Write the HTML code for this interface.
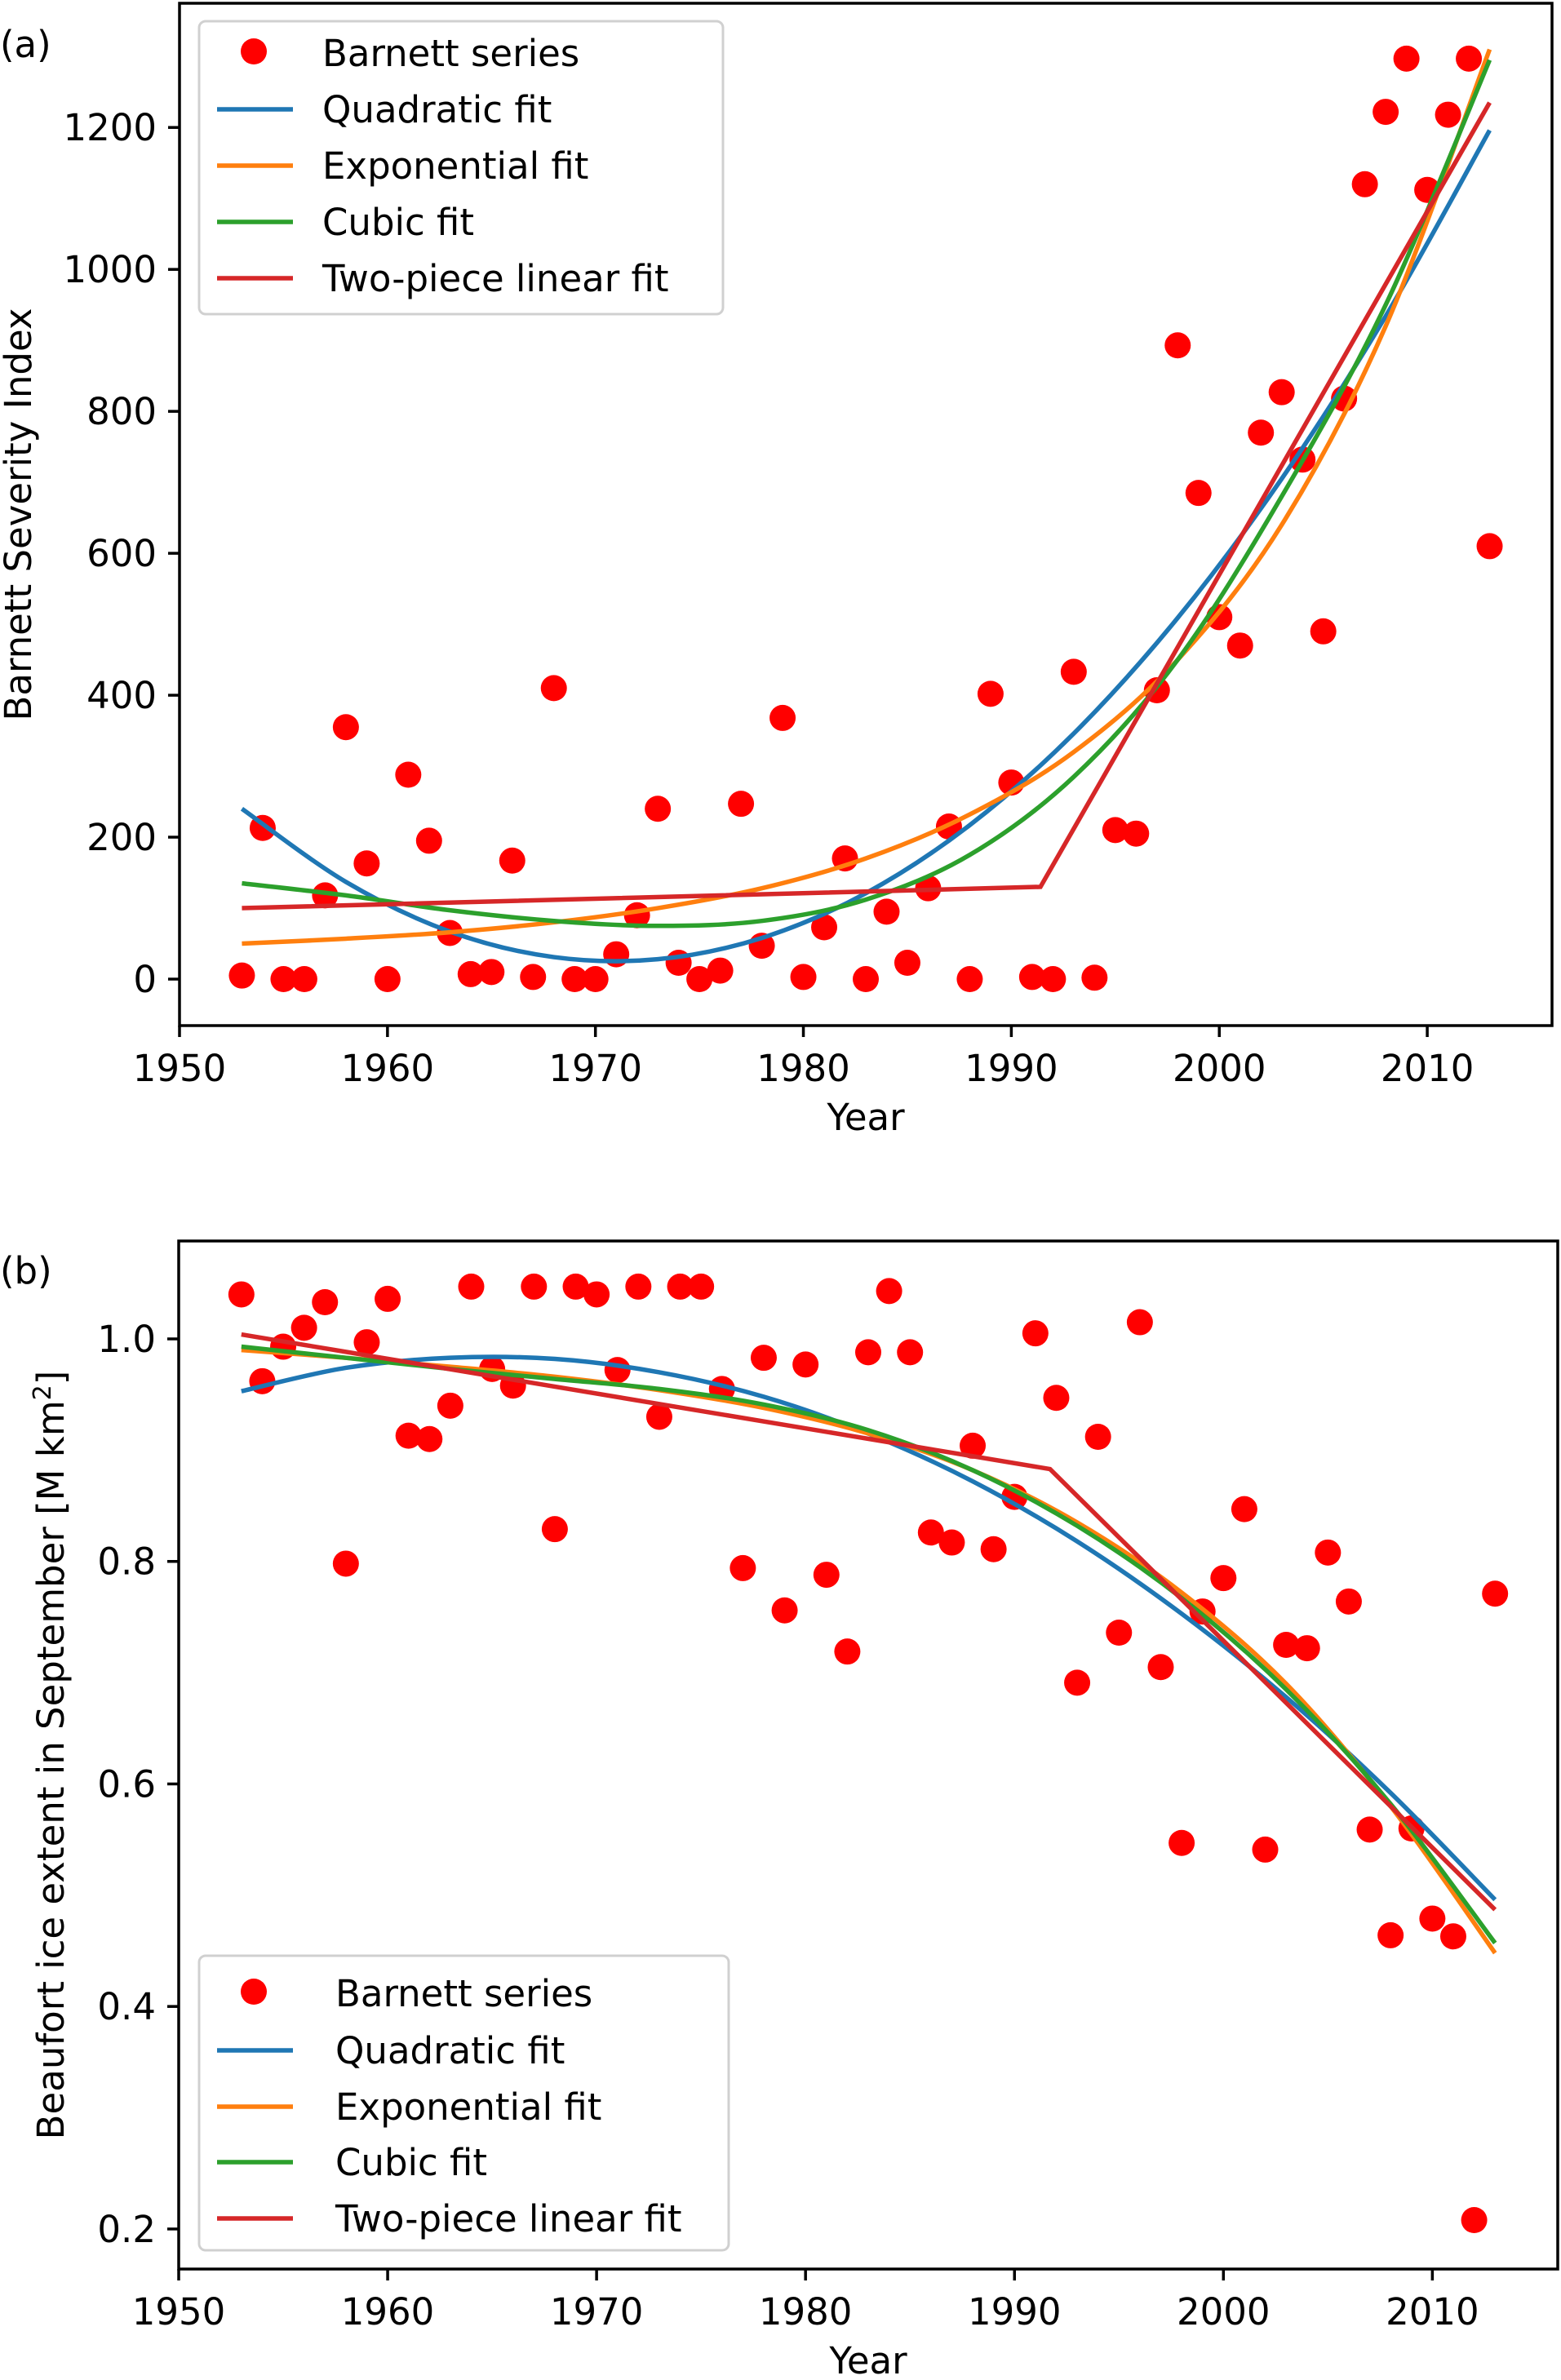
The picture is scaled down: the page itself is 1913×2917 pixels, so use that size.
<!DOCTYPE html>
<html><head><meta charset="utf-8"><style>
html,body{margin:0;padding:0;background:#fff}
svg{display:block;font-family:"DejaVu Sans","Liberation Sans",sans-serif}
</style></head><body>
<svg id="fig" width="1913" height="2917" viewBox="0 0 1913 2917" xmlns="http://www.w3.org/2000/svg"></svg>
<script>
const years = [];
for (let y = 1953; y <= 2013; y++) years.push(y);
const barnettA = [5,213,0,0,118,355,163,0,288,195,65,7,10,167,3,410,0,0,35,90,240,23,0,12,247,47,368,3,73,170,0,95,23,128,215,0,402,277,3,0,433,2,210,205,407,893,685,510,470,770,827,732,490,818,1120,1222,1297,1112,1218,1297,610];
const iceB = [1.040,0.962,0.993,1.010,1.033,0.798,0.997,1.036,0.913,0.910,0.940,1.047,0.973,0.958,1.047,0.829,1.047,1.040,0.972,1.047,0.930,1.047,1.047,0.955,0.794,0.983,0.756,0.977,0.788,0.719,0.988,1.043,0.988,0.826,0.817,0.904,0.811,0.858,1.005,0.947,0.691,0.912,0.736,1.015,0.705,0.547,0.755,0.785,0.847,0.541,0.725,0.722,0.808,0.764,0.559,0.464,0.560,0.479,0.463,0.208,0.771];
const fitYears = [1953,1958,1963,1968,1973,1978,1983,1988,1993,1998,2003,2008,2013];
const quadA = [240,137,67,31,28,58,121,217,346,509,705,934,1196];
const expA = [50,57,66,80,100,128,170,232,320,450,640,920,1310];
const cubicA = [135,118,97,82,75,82,112,175,285,450,680,950,1295];
const pieceYearsA = [1953,1991.4,2013];
const pieceA = [100,130,1235];
const quadB = [0.953,0.974,0.983,0.982,0.970,0.948,0.915,0.872,0.818,0.753,0.678,0.592,0.496];
const expB = [0.990,0.983,0.975,0.966,0.954,0.938,0.915,0.882,0.835,0.772,0.690,0.580,0.448];
const cubicB = [0.993,0.983,0.973,0.964,0.955,0.941,0.918,0.882,0.832,0.767,0.685,0.582,0.457];
const pieceYearsB = [1953,1991.7,2013];
const pieceB = [1.004,0.883,0.487];
const xTicks = [1950,1960,1970,1980,1990,2000,2010];
const yTicksA = [0,200,400,600,800,1000,1200];
const yTicksB = [0.2,0.4,0.6,0.8,1.0];
const legendLabels = ["Barnett series","Quadratic fit","Exponential fit","Cubic fit","Two-piece linear fit"];

const NS = "http://www.w3.org/2000/svg";
const svg = document.getElementById('fig');
function mk(tag, attrs, parent) {
  const e = document.createElementNS(NS, tag);
  for (const k in attrs) e.setAttribute(k, attrs[k]);
  (parent || svg).appendChild(e);
  return e;
}
function smoothPath(pts) {
  let d = `M${pts[0][0]},${pts[0][1]}`;
  for (let i = 0; i < pts.length - 1; i++) {
    const p0 = pts[Math.max(0,i-1)], p1 = pts[i], p2 = pts[i+1], p3 = pts[Math.min(pts.length-1,i+2)];
    const c1x = p1[0] + (p2[0]-p0[0])/6, c1y = p1[1] + (p2[1]-p0[1])/6;
    const c2x = p2[0] - (p3[0]-p1[0])/6, c2y = p2[1] - (p3[1]-p1[1])/6;
    d += ` C${c1x},${c1y} ${c2x},${c2y} ${p2[0]},${p2[1]}`;
  }
  return d;
}
function panel(cfg) {
  const g = mk('g', {});
  
  
  const X = v => cfg.L + (v - 1950) / (cfg.xmax - 1950) * (cfg.R - cfg.L);
  const Y = v => cfg.B - (v - cfg.ymin) / (cfg.ymax - cfg.ymin) * (cfg.B - cfg.T);
  // dots
  cfg.dots.forEach((v, i) => {
    const c = mk('circle', {cx: X(years[i]), cy: Y(v), r: 16, fill: '#ff0000'}, g);
    
    
  });
  const colors = ['#1f77b4','#ff7f0e','#2ca02c'];
  const names = ['quadratic-fit-line','exponential-fit-line','cubic-fit-line'];
  cfg.fits.forEach((arr, k) => {
    const pts = arr.map((v, i) => [X(fitYears[i]), Y(v)]);
    const p = mk('path', {d: smoothPath(pts), fill: 'none', stroke: colors[k], 'stroke-width': 5.5}, g);
    
    
  });
  const pp = cfg.pieceYears.map((yr, i) => X(yr) + ',' + Y(cfg.piece[i])).join(' ');
  const pl = mk('polyline', {points: pp, fill: 'none', stroke: '#d62728', 'stroke-width': 5.5}, g);
  
  
  // axes frame
  const fr = mk('rect', {x: cfg.L, y: cfg.T, width: cfg.R - cfg.L, height: cfg.B - cfg.T, fill: 'none', stroke: '#000', 'stroke-width': 3.5}, g);
  
  
  xTicks.forEach(t => {
    const x = X(t);
    mk('line', {x1: x, x2: x, y1: cfg.B, y2: cfg.B + 14, stroke: '#000', 'stroke-width': 3.5}, g);
    const tx = mk('text', {x: x, y: cfg.B + 68, 'text-anchor': 'middle', 'font-size': 45}, g);
    tx.textContent = t;
    
    
  });
  cfg.yTicks.forEach(t => {
    const y = Y(t);
    mk('line', {x1: cfg.L - 14, x2: cfg.L, y1: y, y2: y, stroke: '#000', 'stroke-width': 3.5}, g);
    const tx = mk('text', {x: cfg.L - 28, y: y + 16, 'text-anchor': 'end', 'font-size': 45}, g);
    tx.textContent = cfg.fmt(t);
    
    
  });
  const xl = mk('text', {x: (cfg.L + cfg.R) / 2, y: cfg.B + 128, 'text-anchor': 'middle', 'font-size': 45}, g);
  xl.textContent = 'Year';
  
  
  const cy = (cfg.T + cfg.B) / 2;
  const yl = mk('text', {x: 0, y: 0, 'text-anchor': 'middle', 'font-size': 45, transform: `translate(${cfg.ylx},${cy}) rotate(-90)`}, g);
  yl.innerHTML = cfg.ylabel;
  
  
  const pl2 = mk('text', {x: 0, y: cfg.labelY, 'font-size': 45}, g);
  pl2.textContent = cfg.letter;
  
  
  // legend
  const lg = mk('g', {}, g);
  
  
  const lb = cfg.leg;
  mk('rect', {x: lb.x, y: lb.y, width: lb.w, height: lb.h, rx: 8, fill: '#fff', 'fill-opacity': 0.85, stroke: '#d0d0d0', 'stroke-width': 3}, lg);
  const lcol = ['#ff0000','#1f77b4','#ff7f0e','#2ca02c','#d62728'];
  legendLabels.forEach((s, i) => {
    const ey = lb.ey[i];
    const e = mk('g', {}, lg);
    
    
    if (i === 0) mk('circle', {cx: lb.mx, cy: ey - 2, r: 16, fill: '#ff0000'}, e);
    else mk('line', {x1: 266, x2: 359, y1: ey, y2: ey, stroke: lcol[i], 'stroke-width': 5.5}, e);
    const t = mk('text', {x: lb.tx, y: ey + 16, 'font-size': 45}, e);
    t.textContent = s;
  });
}
panel({name: 'panel-a-chart', L: 220, R: 1902, T: 4, B: 1257, xmax: 2016, ymin: -65.5, ymax: 1375,
  dots: barnettA, fits: [quadA, expA, cubicA], pieceYears: pieceYearsA, piece: pieceA,
  yTicks: yTicksA, fmt: t => String(t), ylx: 38, labelY: 70, letter: '(a)',
  ylabel: 'Barnett Severity Index',
  leg: {x: 244, y: 26, w: 642, h: 359, ey: [65,134,203,272,341], mx: 311, tx: 395}});
panel({name: 'panel-b-chart', L: 219, R: 1909, T: 1521, B: 2781, xmax: 2016, ymin: 0.164, ymax: 1.088,
  dots: iceB, fits: [quadB, expB, cubicB], pieceYears: pieceYearsB, piece: pieceB,
  yTicks: yTicksB, fmt: t => t.toFixed(1), ylx: 78, labelY: 1573, letter: '(b)',
  ylabel: 'Beaufort ice extent in September [M km<tspan dy="-16" font-size="30">2</tspan><tspan dy="16">]</tspan>',
  leg: {x: 244, y: 2397, w: 649, h: 361, ey: [2443,2513,2582,2650,2719], mx: 311, tx: 411}});
</script>
</body></html>
